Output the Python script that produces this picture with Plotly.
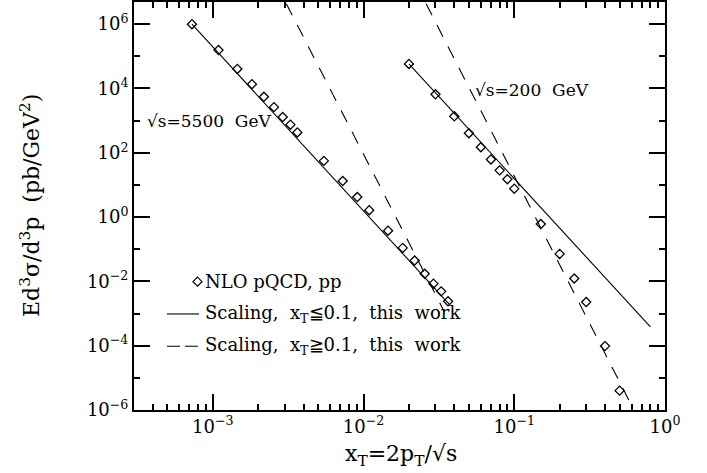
import math
import plotly.graph_objects as go

# ---------------- data ----------------
sqrt_s_lhc = 5500.0
sqrt_s_rhic = 200.0

pt_lhc = [2, 3, 4, 5, 6, 7, 8, 9, 10, 15, 20, 25, 30, 40, 50, 60, 70, 80, 90, 100]
sigma_lhc = [1.0e6, 1.57e5, 4.06e4, 1.36e4, 5.5e3, 2.63e3, 1.29e3, 7.5e2, 4.3e2,
             56.0, 13.2, 4.2, 1.64, 0.377, 0.110, 0.0445, 0.0172, 0.0085, 0.0049, 0.0024]

pt_rhic = [2, 3, 4, 5, 6, 7, 8, 9, 10, 15, 20, 25, 30, 40, 50]
sigma_rhic = [5.8e4, 6.6e3, 1.36e3, 405.0, 149.0, 62.0, 28.4, 15.0, 7.66,
              0.607, 0.0716, 0.0123, 0.00228, 9.7e-5, 4.0e-6]

# scaling curves (end points of the power laws)
scal_lo_x_lhc = [7.27e-4, 0.0376]
scal_lo_y_lhc = [1.0e6, 1.8e-3]
scal_lo_x_rhic = [0.02, 0.80]
scal_lo_y_rhic = [5.8e4, 3.85e-4]
scal_hi_x_lhc = [2.6e-3, 0.0343]
scal_hi_y_lhc = [2.0e7, 1.16e-3]
scal_hi_x_rhic = [0.022, 0.61]
scal_hi_y_rhic = [2.0e7, 1.2e-6]

x_tickvals = [1e-3, 1e-2, 1e-1, 1.0]
x_ticktext = ["10<sup>\u22123</sup>", "10<sup>\u22122</sup>", "10<sup>\u22121</sup>", "10<sup>0</sup>"]
y_tickvals = [1e-6, 1e-4, 1e-2, 1.0, 1e2, 1e4, 1e6]
y_ticktext = ["10<sup>\u22126</sup>", "10<sup>\u22124</sup>", "10<sup>\u22122</sup>", "10<sup>0</sup>",
              "10<sup>2</sup>", "10<sup>4</sup>", "10<sup>6</sup>"]
y_minor = [1e-5, 1e-3, 1e-1, 1e1, 1e3, 1e5]
x_minor = [m * 10.0 ** e for e in (-4, -3, -2, -1) for m in range(2, 10)]

xt_lhc = [2 * p / sqrt_s_lhc for p in pt_lhc]
xt_rhic = [2 * p / sqrt_s_rhic for p in pt_rhic]

FONT = "DejaVu Serif"
BLACK = "black"

fig = go.Figure()

line_solid = dict(color=BLACK, width=1.1)
line_dash = dict(color=BLACK, width=1.1, dash="13px,11px")
marker = dict(symbol="diamond-open", size=7, color=BLACK, line=dict(width=1.3, color=BLACK))

fig.add_trace(go.Scatter(x=scal_hi_x_lhc, y=scal_hi_y_lhc, mode="lines", line=line_dash, showlegend=False))
fig.add_trace(go.Scatter(x=scal_hi_x_rhic, y=scal_hi_y_rhic, mode="lines", line=line_dash, showlegend=False))
fig.add_trace(go.Scatter(x=scal_lo_x_lhc, y=scal_lo_y_lhc, mode="lines", line=line_solid, showlegend=False))
fig.add_trace(go.Scatter(x=scal_lo_x_rhic, y=scal_lo_y_rhic, mode="lines", line=line_solid, showlegend=False))
fig.add_trace(go.Scatter(x=xt_lhc, y=sigma_lhc, mode="markers", marker=marker, showlegend=False, cliponaxis=True))
fig.add_trace(go.Scatter(x=xt_rhic, y=sigma_rhic, mode="markers", marker=marker, showlegend=False, cliponaxis=True))

axis_common = dict(
    type="log", showgrid=False, zeroline=False,
    showline=True, linewidth=2, linecolor=BLACK, mirror="ticks",
    ticks="inside", ticklen=16, tickwidth=1.5, tickcolor=BLACK,
    tickfont=dict(family=FONT, size=18, color=BLACK),
)

fig.update_xaxes(
    **axis_common,
    range=[math.log10(3e-4), 0.0],
    tickmode="array", tickvals=x_tickvals, ticktext=x_ticktext,
    minor=dict(tickmode="array", tickvals=x_minor, ticks="inside", ticklen=6, tickwidth=1.5, tickcolor=BLACK),
    ticklabelstandoff=-1,
)
fig.update_yaxes(
    **axis_common,
    range=[-6.0, 6.69],
    tickmode="array", tickvals=y_tickvals, ticktext=y_ticktext,
    minor=dict(tickmode="array", tickvals=y_minor, ticks="inside", ticklen=6, tickwidth=1.5, tickcolor=BLACK),
    ticklabelstandoff=0,
)

# ---------------- layout geometry ----------------
L, R, T, B = 134, 42, 0, 63
W, H = 707, 473
pw, ph = W - L - R, H - T - B


def px2paper(px, py):
    return (px - L) / pw, (H - B - py) / ph


annotations = []
# axis titles
ax_, ay_ = px2paper(30, 205)
annotations.append(dict(text="Ed<sup>3</sup>\u03c3/d<sup>3</sup>p  (pb/GeV<sup>2</sup>)",
                        x=ax_, y=ay_, xref="paper", yref="paper", textangle=-90,
                        showarrow=False, xanchor="center", yanchor="middle",
                        font=dict(family=FONT, size=22, color=BLACK)))
ax_, ay_ = px2paper(401, 456)
annotations.append(dict(text="x<sub>T</sub>=2p<sub>T</sub>/\u221as",
                        x=ax_, y=ay_, xref="paper", yref="paper",
                        showarrow=False, xanchor="center", yanchor="middle",
                        font=dict(family=FONT, size=22, color=BLACK)))
# energy labels (data coordinates, log10 units)
annotations.append(dict(text="\u221as=5500  GeV", x=math.log10(3.53e-4), y=2.978,
                        xref="x", yref="y", showarrow=False, xanchor="left", yanchor="middle",
                        font=dict(family=FONT, size=17, color=BLACK)))
annotations.append(dict(text="\u221as=200  GeV", x=math.log10(0.0534), y=3.968,
                        xref="x", yref="y", showarrow=False, xanchor="left", yanchor="middle",
                        font=dict(family=FONT, size=17, color=BLACK)))

legend_texts = ["NLO pQCD, pp",
                "Scaling,  x<sub>T</sub>\u22660.1,  this  work",
                "Scaling,  x<sub>T</sub>\u22670.1,  this  work"]
legend_rows = [281, 313.5, 346]
for txt, row in zip(legend_texts, legend_rows):
    lx, ly = px2paper(203, row)
    annotations.append(dict(text=txt, x=lx, y=ly, xref="paper", yref="paper",
                            showarrow=False, xanchor="left", yanchor="middle",
                            font=dict(family=FONT, size=18, color=BLACK)))

shapes = []
dx, dy = px2paper(197.5, legend_rows[0])
shapes.append(dict(type="path", xref="paper", yref="paper", xsizemode="pixel", ysizemode="pixel",
                   xanchor=dx, yanchor=dy, path="M 0 4.5 L 4.5 0 L 0 -4.5 L -4.5 0 Z",
                   line=dict(color=BLACK, width=1.2)))
x0, y1 = px2paper(167, legend_rows[1])
x1, _ = px2paper(199, legend_rows[1])
shapes.append(dict(type="line", xref="paper", yref="paper", x0=x0, x1=x1, y0=y1, y1=y1,
                   line=dict(color=BLACK, width=1.1)))
x0, y2 = px2paper(167, legend_rows[2])
shapes.append(dict(type="line", xref="paper", yref="paper", x0=x0, x1=x1, y0=y2, y1=y2,
                   line=dict(color=BLACK, width=1.1, dash="13px,5px")))

fig.update_layout(
    width=W, height=H,
    margin=dict(l=L, r=R, t=T, b=B, pad=0),
    paper_bgcolor="white", plot_bgcolor="white",
    showlegend=False,
    annotations=annotations, shapes=shapes,
    font=dict(family=FONT, color=BLACK),
)

fig.write_html("out.html", config={"displayModeBar": False},
               post_script="document.body.style.margin='0';")
